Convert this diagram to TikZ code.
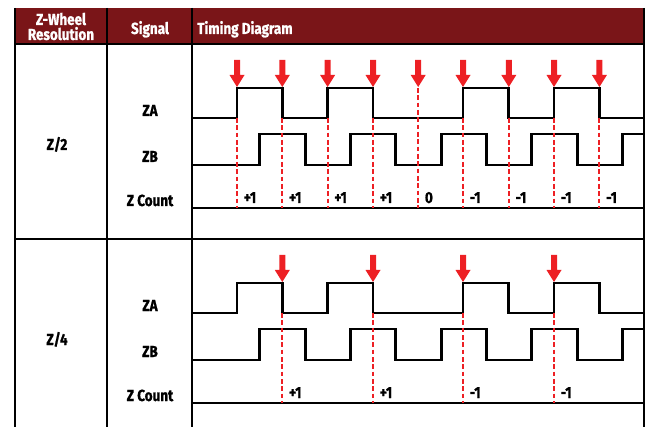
\documentclass[tikz,border=0pt]{standalone}
\usepackage{fontspec}
\setmainfont[FakeStretch=0.84, BoldFeatures={FakeBold=1}]{Fira Sans}
\usetikzlibrary{calc}

\definecolor{zhead}{HTML}{7A1518}
\definecolor{zred}{HTML}{ED2024}
\newcommand\zfont{\fontsize{12}{11.25}\selectfont\bfseries}

\tikzset{
  grid line/.style = {line width=1.5pt},
  wave/.style = {line width=2.2pt, line join=miter},
  edge mark/.style = {zred, line width=1.4pt, dash pattern=on 3.5pt off 2pt},
  head label/.style = {font=\zfont, text=white, inner sep=0pt, align=center},
  sig label/.style = {font=\zfont, anchor=base, inner sep=0pt},
  count label/.style = {font=\zfont, anchor=base west, inner sep=0pt},
  zarrow/.pic = {
    \fill[zred] (-3,-27) -- (3,-27) -- (3,-12) -- (7.5,-12) -- (0,0)
      -- (-7.5,-12) -- (-3,-12) -- cycle;
  }
}

\begin{document}
\begin{tikzpicture}[x=0.75pt, y=-0.75pt]
\useasboundingbox (0,0) rectangle (645,427);
\clip (0,0) rectangle (645,427);

% header
\fill[zhead] (15,8) rectangle (644,44);
\node[head label] (hres) at (61,26.5) {Z-Wheel\\Resolution};
\node[head label, anchor=base] (hsig) at (150,34) {Signal};
\node[head label, anchor=base west] (htim) at (197,34) {Timing Diagram};

% table rules
\draw[grid line] (15,8) -- (15,427);
\draw[grid line] (107,8) -- (107,427);
\draw[grid line] (192,8) -- (192,427);
\draw[grid line] (644,8) -- (644,427);
\draw[grid line] (15,44) -- (644,44);
\draw[grid line] (15,239) -- (644,239);

% both sections
\foreach \dy/\res in {0/2, 195/4} {
\begin{scope}[shift={(0,\dy)}]
\node[sig label] (zres\res) at (57,150) {Z/\res};
\node[sig label] (zsa\res) at (150,116) {ZA};
\node[sig label] (zsb\res) at (150,162) {ZB};
\node[sig label] (zsc\res) at (150,206) {Z Count};
\draw[grid line] (192,208) -- (644,208);
\draw[wave]
	(192,118) -| (237,88) -| (282.3,118) -| (327.6,88) -| (373,118)
	-| (463,88) -| (508.8,118) -| (554,88) -| (599.4,118) -- (644,118);
\draw[wave]
	(192,165) -| (259.8,134) -| (305.2,165) -| (350.5,134) -| (395.9,165)
	-| (441.2,134) -| (486.6,165) -| (531.9,134) -| (577.3,165)
	-| (622.6,134) -- (644,134);
\end{scope}
}

% Z/2 counts
\foreach \x/\top/\lab [count=\i] in {237/118/+1, 282.3/118/+1, 327.6/118/+1,
	373/118/+1, 418.2/88/0, 463/118/-1, 508.8/118/-1, 554/118/-1, 599.4/118/-1} {
\draw[edge mark] (\x,\top) -- (\x,208);
\pic at (\x,87) {zarrow};
\node[count label] (zcnt\i) at ($(\x,203)+(6.5,0)$) {\lab};
}

% Z/4 counts
\foreach \x/\lab [count=\i] in {282.3/+1, 373/+1, 463/-1, 554/-1} {
\draw[edge mark] (\x,313) -- (\x,403);
\pic at (\x,282) {zarrow};
\node[count label] (zqcnt\i) at ($(\x,398)+(6.5,0)$) {\lab};
}
\end{tikzpicture}
\end{document}
